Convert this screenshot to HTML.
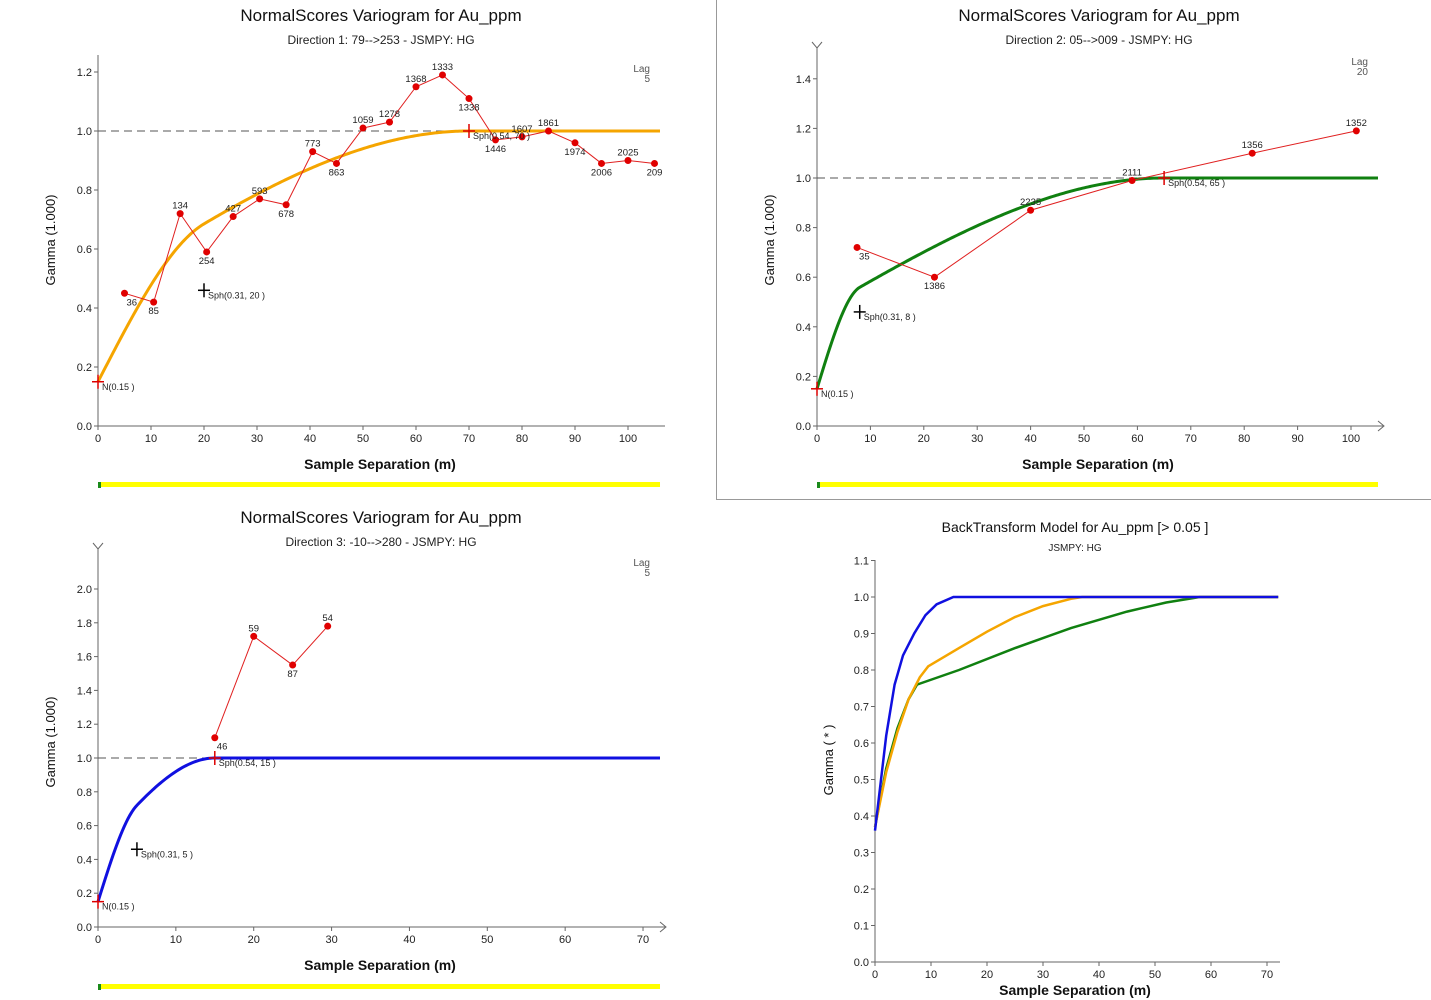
<!DOCTYPE html>
<html><head><meta charset="utf-8"><style>
body{margin:0;background:#fff;width:1431px;height:1000px;overflow:hidden;font-family:"Liberation Sans",sans-serif}
svg{position:absolute;left:0;top:0}
</style></head><body>
<svg id="c" width="1431" height="1000"></svg>
<script>
// ---- data ----
const d1X=[5,10.5,15.5,20.5,25.5,30.5,35.5,40.5,45,50,55,60,65,70,75,80,85,90,95,100,105];
const d1Y=[0.45,0.42,0.72,0.59,0.71,0.77,0.75,0.93,0.89,1.01,1.03,1.15,1.19,1.11,0.97,0.98,1.0,0.96,0.89,0.90,0.89];
const d1L=["36","85","134","254","427","593","678","773","863","1059","1278","1368","1333","1338","1446","1607","1861","1974","2006","2025","209"];
const d2X=[7.5,22,40,59,81.5,101];
const d2Y=[0.72,0.60,0.87,0.99,1.10,1.19];
const d2L=["35","1386","2235","2111","1356","1352"];
const d3X=[15,20,25,29.5];
const d3Y=[1.12,1.72,1.55,1.78];
const d3L=["46","59","87","54"];
const nugget=[0.15,0.15,0.15];
const sill1=[0.31,0.31,0.31];
const range1=[20,8,5];
const sill2=[0.54,0.54,0.54];
const range2=[70,65,15];
const xTicks1=[0,10,20,30,40,50,60,70,80,90,100];
const yTicks1=[0,0.2,0.4,0.6,0.8,1.0,1.2];
const yTicks2=[0,0.2,0.4,0.6,0.8,1.0,1.2,1.4];
const xTicks3=[0,10,20,30,40,50,60,70];
const yTicks3=[0,0.2,0.4,0.6,0.8,1.0,1.2,1.4,1.6,1.8,2.0];
const yTicks4=[0,0.1,0.2,0.3,0.4,0.5,0.6,0.7,0.8,0.9,1.0,1.1];
const bt1X=[0,2,3.5,5,7,9,11,14,72];
const bt1Y=[0.36,0.62,0.76,0.84,0.90,0.95,0.98,1.0,1.0];
const bt2X=[0,2,4,6,8,9.5,15,20,25,30,35,37,72];
const bt2Y=[0.37,0.52,0.63,0.72,0.78,0.81,0.86,0.905,0.945,0.975,0.995,1.0,1.0];
const bt3X=[0,2,4,6,7.5,15,25,35,45,52,58,72];
const bt3Y=[0.37,0.53,0.64,0.72,0.76,0.80,0.86,0.915,0.96,0.985,1.0,1.0];

const NS="http://www.w3.org/2000/svg";
const svg=document.getElementById('c');
function el(t,a,p){const e=document.createElementNS(NS,t);for(const k in a)e.setAttribute(k,a[k]);(p||svg).appendChild(e);return e;}
function txt(x,y,s,a,p){const e=el('text',Object.assign({x:x,y:y,'font-size':10,fill:'#222'},a||{}),p);e.textContent=s;return e;}
function sph(h,c,a){if(h>=a)return c;const r=h/a;return c*(1.5*r-0.5*r*r*r);}

function panel(cfg){
  const g=el('g',{});
  
  
  const sx=v=>cfg.x0+v*cfg.kx, sy=v=>cfg.y0-v*cfg.ky;
  if(cfg.title){const t=txt(cfg.tx,cfg.ty,cfg.title,{'font-size':17,'text-anchor':'middle',fill:'#111'},g);
    }
  if(cfg.sub){const t=txt(cfg.tx,cfg.ty+23,cfg.sub,{'font-size':12,'text-anchor':'middle',fill:'#222'},g);
    }
  // axes
  const ax=el('g',{},g);
  el('line',{x1:cfg.x0,y1:cfg.y0,x2:cfg.xe+5,y2:cfg.y0,stroke:'#666'},ax);
  el('line',{x1:cfg.x0,y1:cfg.y0,x2:cfg.x0,y2:cfg.ytop,stroke:'#666'},ax);
  if(cfg.arrows){el('polyline',{points:`${cfg.xe},${cfg.y0-5} ${cfg.xe+6},${cfg.y0} ${cfg.xe},${cfg.y0+5}`,fill:'none',stroke:'#666'},ax);
    el('polyline',{points:`${cfg.x0-5},${cfg.ytop-6} ${cfg.x0},${cfg.ytop} ${cfg.x0+5},${cfg.ytop-6}`,fill:'none',stroke:'#666'},ax);}
  cfg.xt.forEach(v=>{el('line',{x1:sx(v),y1:cfg.y0,x2:sx(v),y2:cfg.y0+4,stroke:'#666'},ax);
    txt(sx(v),cfg.y0+16,String(v),{'font-size':11,'text-anchor':'middle'},ax);});
  cfg.yt.forEach(v=>{el('line',{x1:cfg.x0-4,y1:sy(v),x2:cfg.x0,y2:sy(v),stroke:'#666'},ax);
    txt(cfg.x0-6,sy(v)+4,v.toFixed(1),{'font-size':11,'text-anchor':'end'},ax);});
  const xl=txt(cfg.xlx,cfg.xly,'Sample Separation (m)',{'font-size':14,'font-weight':'bold','text-anchor':'middle',fill:'#111'},g);
  
  const yl=txt(0,0,cfg.ylab,{'font-size':13,'text-anchor':'middle',fill:'#111',transform:`translate(${cfg.ylx},${cfg.yly}) rotate(-90)`},g);
  
  return {g,sx,sy};
}

function variogram(cfg,i,X,Y,L,col){
  const {g,sx,sy}=panel(cfg);
  const lag=txt(cfg.xe-10,cfg.ytop+17,'Lag',{'font-size':10,'text-anchor':'end',fill:'#555'},g);
  
  txt(cfg.xe-10,cfg.ytop+27,cfg.lag,{'font-size':10,'text-anchor':'end',fill:'#555'},g);
  const sill=nugget[i]+sill1[i]+sill2[i];
  const dl=el('line',{x1:sx(0),y1:sy(sill),x2:sx(range2[i]),y2:sy(sill),stroke:'#555','stroke-dasharray':'8,5'},g);
  
  // model
  let pts=[];const xm=(cfg.xe-cfg.x0)/cfg.kx;
  for(let k=0;k<=300;k++){const h=xm*k/300;pts.push(sx(h)+','+sy(nugget[i]+sph(h,sill1[i],range1[i])+sph(h,sill2[i],range2[i])));}
  const m=el('polyline',{points:pts.join(' '),fill:'none',stroke:col,'stroke-width':3},g);
  
  // experimental
  const ep=el('polyline',{points:X.map((x,k)=>sx(x)+','+sy(Y[k])).join(' '),fill:'none',stroke:'#e02020','stroke-width':1},g);
  
  X.forEach((x,k)=>{const c=el('circle',{cx:sx(x),cy:sy(Y[k]),r:3.5,fill:'#e00000'},g);
    
    const up=k>0&&Y[k]>=Y[k-1];
    txt(sx(x)+(k==0?2:0),sy(Y[k])+(up?-5:12),L[k],{'font-size':9.5,'text-anchor':k==0?'start':'middle',fill:'#222'},g);});
  // structure markers
  const mk=(x,y,c,lab)=>{el('line',{x1:sx(x)-6,y1:sy(y),x2:sx(x)+6,y2:sy(y),stroke:c,'stroke-width':1.5},g);
    el('line',{x1:sx(x),y1:sy(y)-7,x2:sx(x),y2:sy(y)+7,stroke:c,'stroke-width':1.5},g);
    const t=txt(sx(x)+4,sy(y)+8,lab,{'font-size':9,fill:'#222'},g);};
  mk(0,nugget[i],'#d00',`N(0.15 )`);
  mk(range1[i],nugget[i]+sill1[i],'#000',`Sph(0.31, ${range1[i]} )`);
  mk(range2[i],sill,'#d00',`Sph(0.54, ${range2[i]} )`);
  const b=el('rect',{x:cfg.x0,y:cfg.bary,width:cfg.xe-cfg.x0,height:5,fill:'#ffff00'},g);
  
  el('rect',{x:cfg.x0,y:cfg.bary,width:3,height:6,fill:'#1a8a1a'},g);
}

variogram({name:'variogram-direction-1',x0:98,y0:426,kx:5.3,ky:295,xe:660,ytop:55,arrows:false,tx:381,ty:21,
  title:'NormalScores  Variogram for Au_ppm',sub:'Direction 1: 79-->253 - JSMPY: HG',xt:xTicks1,yt:yTicks1,
  xlx:380,xly:469,ylab:'Gamma (1.000)',ylx:55,yly:240,lag:'5',bary:482},0,d1X,d1Y,d1L,'#f5a500');
el('rect',{x:716.5,y:-1,width:720,height:500.5,fill:'none',stroke:'#999'});
variogram({name:'variogram-direction-2',x0:817,y0:426,kx:5.34,ky:248,xe:1378,ytop:48,arrows:true,tx:1099,ty:21,
  title:'NormalScores  Variogram for Au_ppm',sub:'Direction 2: 05-->009 - JSMPY: HG',xt:xTicks1,yt:yTicks2,
  xlx:1098,xly:469,ylab:'Gamma (1.000)',ylx:774,yly:240,lag:'20',bary:482},1,d2X,d2Y,d2L,'#108010');
variogram({name:'variogram-direction-3',x0:98,y0:927,kx:7.786,ky:169,xe:660,ytop:549,arrows:true,tx:381,ty:523,
  title:'NormalScores  Variogram for Au_ppm',sub:'Direction 3: -10-->280 - JSMPY: HG',xt:xTicks3,yt:yTicks3,
  xlx:380,xly:970,ylab:'Gamma (1.000)',ylx:55,yly:742,lag:'5',bary:984},2,d3X,d3Y,d3L,'#1010e0');

// backtransform panel
(function(){
  const cfg={name:'backtransform-model',x0:875,y0:962,kx:5.6,ky:365,xe:1275,ytop:560,arrows:false,tx:1075,ty:532,
    title:'',sub:'',xt:xTicks3,yt:yTicks4,xlx:1075,xly:995,ylab:'Gamma ( * )',ylx:833,yly:760};
  const {g,sx,sy}=panel(cfg);
  const t=txt(1075,532,'BackTransform Model for Au_ppm [> 0.05 ]',{'font-size':14,'text-anchor':'middle',fill:'#111'},g);
  
  const s=txt(1075,551,'JSMPY: HG',{'font-size':10,'text-anchor':'middle',fill:'#222'},g);
  
  const series=[[bt3X,bt3Y,'#108010','curve-direction-2'],[bt2X,bt2Y,'#f5a500','curve-direction-1'],[bt1X,bt1Y,'#1010e0','curve-direction-3']];
  series.forEach(([X,Y,c,n])=>{const p=el('polyline',{points:X.map((x,k)=>sx(x)+','+sy(Y[k])).join(' '),fill:'none',stroke:c,'stroke-width':2.5},g);
    });
})();
</script>
</body></html>
